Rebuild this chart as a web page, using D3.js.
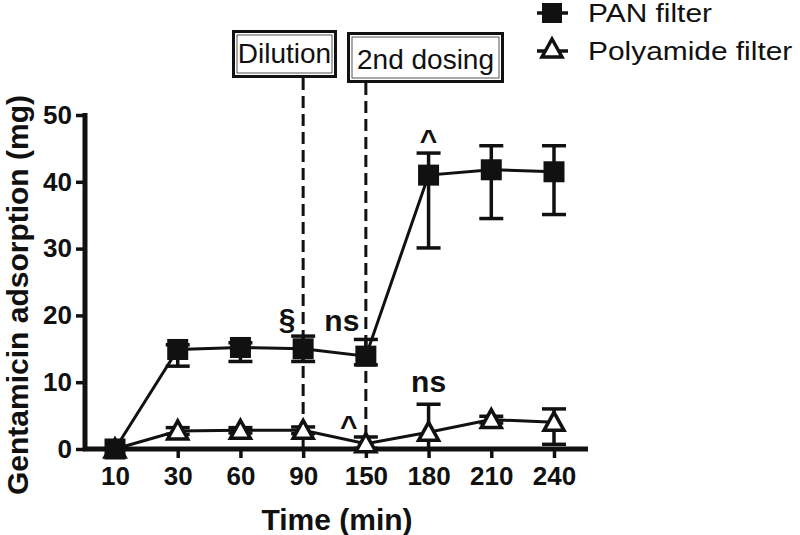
<!DOCTYPE html>
<html>
<head>
<meta charset="utf-8">
<script src="https://cdn.jsdelivr.net/npm/d3@7"></script>
<style>
  body { margin: 0; background: #fff; }
  svg { font-family: "Liberation Sans", Arial, sans-serif; }
</style>
</head>
<body>
<div id="chart"></div>
<script>
// data
var times = ["10", "30", "60", "90", "150", "180", "210", "240"];
var panMean = [0, 14.9, 15.2, 15.0, 13.9, 41.0, 41.8, 41.5];
var panLow  = [0, 12.4, 13.1, 13.1, 12.6, 30.1, 34.5, 35.1];
var panHigh = [0, 15.6, 15.9, 16.9, 16.4, 44.3, 45.4, 45.4];
var polyMean = [0, 2.7, 2.8, 2.8, 0.8, 2.5, 4.4, 4.0];
var polyLow  = [0, 2.2, 2.4, 2.3, 0.1, 0, 3.9, 0.7];
var polyHigh = [0, 3.2, 3.2, 3.3, 1.8, 6.7, 4.9, 6.0];
var yTicks = [0, 10, 20, 30, 40, 50];
var events = [{at: "90", label: "Dilution"}, {at: "150", label: "2nd dosing"}];
var notes = [
  {at: "90", value: 15.0, text: "\u00a7", dx: -16, dy: -20},
  {at: "150", value: 13.9, text: "ns", dx: -24, dy: -25},
  {at: "150", value: 0.8, text: "^", dx: -17, dy: -8},
  {at: "180", value: 44.3, text: "^", dx: 0, dy: -3},
  {at: "180", value: 6.7, text: "ns", dx: 0, dy: -12}
];

var width = 800, height = 535;

var svg = d3.select("#chart").append("svg")
  .attr("width", width)
  .attr("height", height);

var x = d3.scalePoint()
  .domain(times)
  .range([115, 554]);

var y = d3.scaleLinear()
  .domain([0, 50])
  .range([449, 115]);

// event boxes positions (layout only)
var boxes = [{x: 232, y: 30, w: 105, h: 48, base: 63}, {x: 347, y: 32, w: 157, h: 51, base: 69}];

// event dashed lines
svg.selectAll(".event")
  .data(events)
  .enter().append("line")
    .attr("x1", function(d){ return x(d.at); })
    .attr("x2", function(d){ return x(d.at); })
    .attr("y1", function(d, i){ return boxes[i].y + boxes[i].h; })
    .attr("y2", y(0))
    .attr("stroke", "#111")
    .attr("stroke-width", 3)
    .attr("stroke-dasharray", "12,6");

// y axis
var yAxis = svg.append("g")
  .attr("transform", "translate(85,0)")
  .call(d3.axisLeft(y).tickValues(yTicks).tickSize(9).tickSizeOuter(0));
yAxis.select(".domain")
  .attr("d", "M0,113V451")
  .attr("stroke-width", 5).attr("stroke", "#111");
yAxis.selectAll(".tick line").attr("stroke-width", 3.5).attr("stroke", "#111");
yAxis.selectAll("text")
  .attr("font-size", 26).attr("font-weight", "bold").attr("fill", "#111")
  .attr("font-family", "Liberation Sans, Arial, sans-serif")
  .attr("x", -13);

// x axis
var xAxis = svg.append("g")
  .attr("transform", "translate(0," + y(0) + ")")
  .call(d3.axisBottom(x).tickSize(9).tickSizeOuter(0));
xAxis.select(".domain")
  .attr("d", "M83,0H588")
  .attr("stroke-width", 5).attr("stroke", "#111");
xAxis.selectAll(".tick line").attr("stroke-width", 3.5).attr("stroke", "#111");
xAxis.selectAll("text")
  .attr("font-size", 26).attr("font-weight", "bold").attr("fill", "#111")
  .attr("font-family", "Liberation Sans, Arial, sans-serif")
  .attr("dy", 0)
  .attr("y", 36);

// axis titles
svg.append("text")
  .attr("x", 337).attr("y", 530)
  .attr("text-anchor", "middle")
  .attr("font-size", 30).attr("font-weight", "bold").attr("fill", "#111")
  .text("Time (min)");

svg.append("text")
  .attr("transform", "translate(28,295) rotate(-90)")
  .attr("text-anchor", "middle")
  .attr("font-size", 30).attr("font-weight", "bold").attr("fill", "#111")
  .text("Gentamicin adsorption (mg)");

var line = d3.line()
  .x(function(d){ return x(d.t); })
  .y(function(d){ return y(d.v); });

function series(mean, low, high){
  return times.map(function(t, i){
    return {t: t, v: mean[i], lo: low[i], hi: high[i]};
  });
}
var pan = series(panMean, panLow, panHigh);
var poly = series(polyMean, polyLow, polyHigh);

function drawErrors(data){
  var g = svg.append("g").attr("stroke", "#111").attr("stroke-width", 3.5);
  data.forEach(function(d){
    if (d.hi === d.lo) return;
    g.append("line")
      .attr("x1", x(d.t)).attr("x2", x(d.t))
      .attr("y1", y(d.lo)).attr("y2", y(d.hi));
    [d.lo, d.hi].forEach(function(v){
      g.append("line")
        .attr("x1", x(d.t) - 12).attr("x2", x(d.t) + 12)
        .attr("y1", y(v)).attr("y2", y(v));
    });
  });
}

drawErrors(poly);
drawErrors(pan);

svg.append("path").datum(poly)
  .attr("d", line).attr("fill", "none")
  .attr("stroke", "#111").attr("stroke-width", 3);
svg.append("path").datum(pan)
  .attr("d", line).attr("fill", "none")
  .attr("stroke", "#111").attr("stroke-width", 3);

var triPath = "M0,-10L10,8L-10,8Z";

svg.selectAll(".tri")
  .data(poly)
  .enter().append("path")
    .attr("transform", function(d){ return "translate(" + x(d.t) + "," + y(d.v) + ")"; })
    .attr("d", triPath)
    .attr("fill", "#fff")
    .attr("stroke", "#111")
    .attr("stroke-width", 3.5)
    .attr("stroke-linejoin", "miter");

svg.selectAll(".sq")
  .data(pan)
  .enter().append("rect")
    .attr("x", function(d){ return x(d.t) - 10.5; })
    .attr("y", function(d){ return y(d.v) - 10.5; })
    .attr("width", 21).attr("height", 21)
    .attr("fill", "#111");

// significance marks
svg.selectAll(".note")
  .data(notes)
  .enter().append("text")
    .attr("x", function(d){ return x(d.at) + d.dx; })
    .attr("y", function(d){ return y(d.value) + d.dy; })
    .attr("text-anchor", "middle")
    .attr("font-size", 30).attr("font-weight", "bold").attr("fill", "#111")
    .text(function(d){ return d.text; });

// event boxes
events.forEach(function(e, i){
  var b = boxes[i];
  svg.append("rect")
    .attr("x", b.x + 1.5).attr("y", b.y + 1.5).attr("width", b.w - 3).attr("height", b.h - 3)
    .attr("fill", "#fff").attr("stroke", "#111").attr("stroke-width", 3);
  svg.append("rect")
    .attr("x", b.x + 5).attr("y", b.y + 5).attr("width", b.w - 10).attr("height", b.h - 10)
    .attr("fill", "none").attr("stroke", "#555").attr("stroke-width", 1);
  svg.append("text")
    .attr("x", b.x + b.w / 2).attr("y", b.base)
    .attr("text-anchor", "middle")
    .attr("font-size", 28).attr("fill", "#111")
    .text(e.label);
});

// legend
var legend = svg.append("g");
legend.append("line")
  .attr("x1", 537).attr("x2", 568).attr("y1", 13).attr("y2", 13)
  .attr("stroke", "#111").attr("stroke-width", 3.5);
legend.append("rect")
  .attr("x", 542).attr("y", 3).attr("width", 20).attr("height", 20)
  .attr("fill", "#111");
legend.append("text")
  .attr("transform", "translate(588,22) scale(1.15,1)")
  .attr("font-size", 26).attr("fill", "#111")
  .text("PAN filter");
legend.append("line")
  .attr("x1", 537).attr("x2", 568).attr("y1", 51).attr("y2", 51)
  .attr("stroke", "#111").attr("stroke-width", 3.5);
legend.append("path")
  .attr("transform", "translate(552,49)")
  .attr("d", triPath)
  .attr("fill", "#fff").attr("stroke", "#111").attr("stroke-width", 3.5);
legend.append("text")
  .attr("transform", "translate(588,60) scale(1.15,1)")
  .attr("font-size", 26).attr("fill", "#111")
  .text("Polyamide filter");
</script>
</body>
</html>
